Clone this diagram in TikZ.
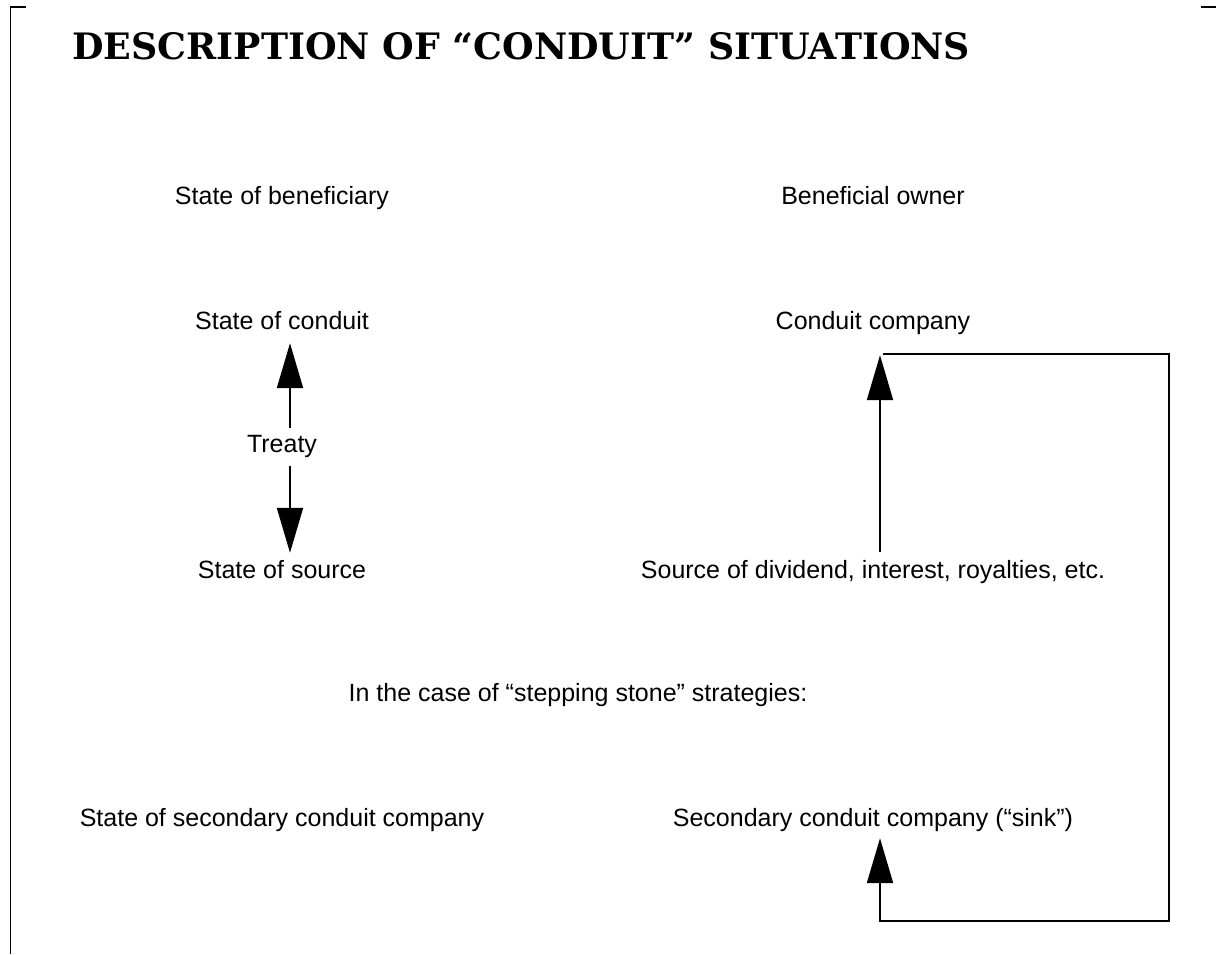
\documentclass[tikz,border=0pt]{standalone}
\usepackage{fontspec}
\usetikzlibrary{arrows.meta}
\newfontfamily\bodyfont{Liberation Sans}
\newfontfamily\titlefont{DejaVu Serif}
\begin{document}
\begin{tikzpicture}[x=1pt,y=-1pt,
  lbl/.style={font=\bodyfont\fontsize{25}{28}\selectfont, inner sep=0pt, text height=18pt, text depth=5pt, anchor=base},
  arr/.style={line width=2pt, -{Triangle[length=45pt,width=26pt]}},
  frame/.style={line width=1.5pt}]
\useasboundingbox (0,0) rectangle (1216,954);
% corner marks
\draw[frame] (26,7) -- (10.5,7) -- (10.5,954);
\draw[frame] (1201,7) -- (1216,7);
% title
\node[anchor=base west, inner sep=0pt] (title) at (72,59)
  {\resizebox{898pt}{27pt}{\titlefont\bfseries DESCRIPTION OF “CONDUIT” SITUATIONS}};
% left column
\node[lbl] (sob) at (282,204) {State of beneficiary};
\node[lbl] (soc) at (282,329) {State of conduit};
\node[lbl] (treaty) at (282,452) {Treaty};
\node[lbl] (sos) at (282,578) {State of source};
\node[lbl] (ssc) at (282,826) {State of secondary conduit company};
% right column
\node[lbl] (bo) at (873,204) {Beneficial owner};
\node[lbl] (cc) at (873,329) {Conduit company};
\node[lbl] (src) at (873,578) {Source of dividend, interest, royalties, etc.};
\node[lbl] (sink) at (873,826) {Secondary conduit company (“sink”)};
% middle
\node[lbl] (case) at (578,701) {In the case of “stepping stone” strategies:};
% arrows
\draw[arr] ([shift={(8,-6)}]treaty.north) -- ([shift={(8,9)}]soc.south);
\draw[arr] ([shift={(8,9)}]treaty.south) -- ([shift={(8,-7)}]sos.north);
\draw[arr] ([shift={(7,-8)}]src.north) -- ([shift={(7,21)}]cc.south);
\draw[arr] ([shift={(10,20)}]cc.south) -- ++(286,0) |- ([shift={(7,90)}]sink.south) -- ([shift={(7,7)}]sink.south);
\end{tikzpicture}
\end{document}
